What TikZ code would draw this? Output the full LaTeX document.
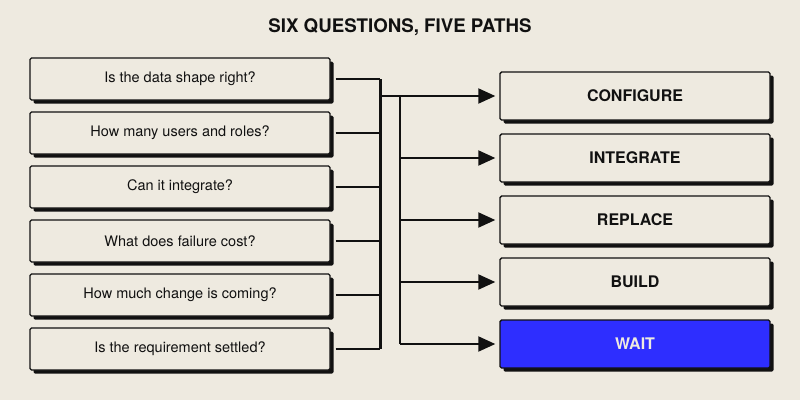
\documentclass[tikz,border=0pt]{standalone}
\usepackage{fontspec}
\setmainfont{TeX Gyre Heros}
\usepackage{tikz}
\usetikzlibrary{positioning, arrows.meta, shadows}
\definecolor{paper}{HTML}{EEEAE0}
\definecolor{ink}{HTML}{111111}
\definecolor{waitblue}{HTML}{2E2EFF}

\begin{document}
\begin{tikzpicture}[x=1pt, y=-1pt,
    question/.style={draw=ink, line width=1.4pt, fill=paper, rounded corners=1.5pt,
        minimum width=300pt, minimum height=42pt, text=ink,
        font=\fontsize{14.5}{16}\selectfont,
        drop shadow={shadow xshift=3.5pt, shadow yshift=-3.5pt, fill=ink, opacity=1}},
    path/.style={question, minimum width=270pt, minimum height=48pt,
        font=\fontsize{16}{18}\selectfont\bfseries},
    link/.style={-, ink, line width=2pt},
    flow/.style={link, -{Triangle[length=17pt, width=15pt]}, shorten >=4pt}]
            \fill[paper] (0,0) rectangle (800,400);
            \useasboundingbox (0,0) rectangle (800,400);
            \node[font=\fontsize{18.7}{21}\selectfont\bfseries, text=ink] (title) at (400,27) {SIX QUESTIONS, FIVE PATHS};
            % questions on the left
            \foreach \t [count=\i] in {Is the data shape right?, How many users and roles?,
                Can it integrate?, What does failure cost?, How much change is coming?,
                Is the requirement settled?} {
                \node[question] (q\i) at (180,{25+54*\i}) {\t};
            }
            % paths on the right
            \foreach \t [count=\j] in {CONFIGURE, INTEGRATE, REPLACE, BUILD} {
                \node[path] (p\j) at (635,{34+62*\j}) {\t};
            }
            \node[path, fill=waitblue, text=paper] (p5) at (635,344) {WAIT};
            \coordinate (busA) at (380,0);
            \coordinate (busB) at (400,0);
            \foreach \i in {1,...,6} {
                \draw[link, shorten <=5pt] (q\i.east) -- (q\i.east -| busA);
            }
            \draw[link, line width=3pt] (q1.east -| busA) -- (q6.east -| busA);
            \draw[link] (p1.west -| busB) -- (p5.west -| busB);
            \draw[flow] (p1.west -| busA) -- (p1.west);
            \foreach \j in {2,...,5} {
                \draw[flow] (p\j.west -| busB) -- (p\j.west);
            }
\end{tikzpicture}
\end{document}
